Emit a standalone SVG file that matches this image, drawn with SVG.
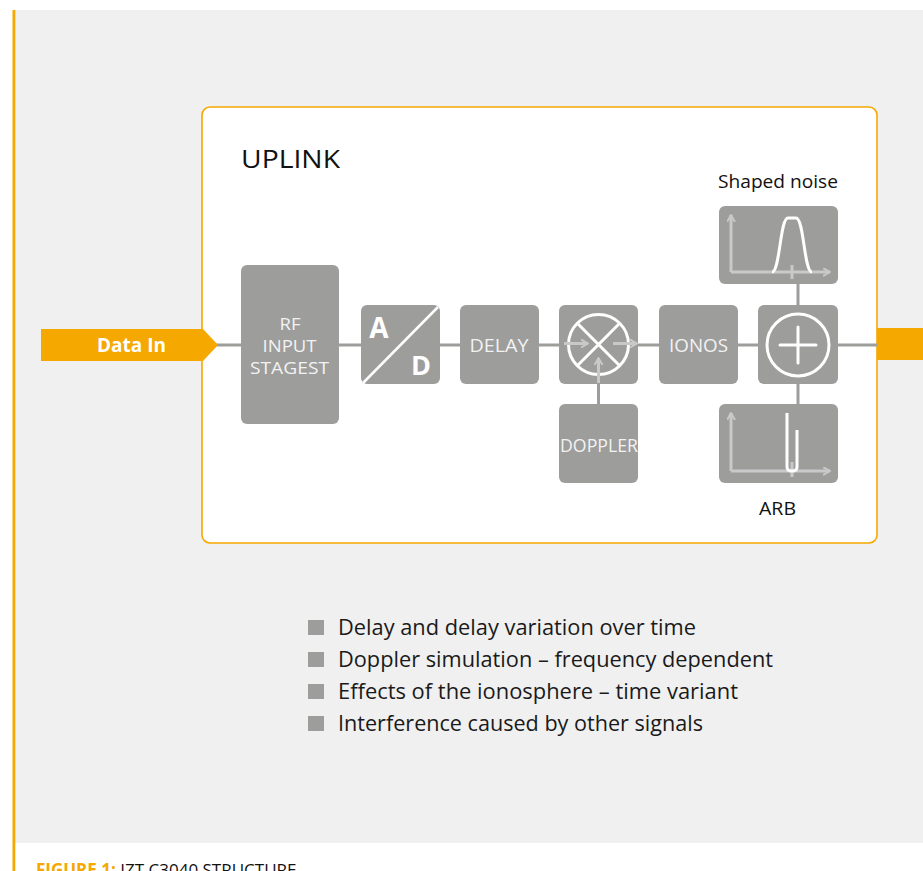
<svg xmlns="http://www.w3.org/2000/svg" width="923" height="871" viewBox="0 0 923 871">
<style>
.box{fill:#9d9d9c}
.lbl{font-family:"Open Sans","Liberation Sans",sans-serif;font-size:18.5px;fill:#f2f2f2;text-anchor:middle}
.lbs{font-size:16.5px}
.blk{font-family:"Open Sans","Liberation Sans",sans-serif;fill:#111;}
.conn{stroke:#9d9d9c;stroke-width:3;fill:none}
.ax{stroke:#c9c9c9;stroke-width:3;fill:none}
.wh{stroke:#fff;stroke-width:3;fill:none}
.bul{fill:#9d9d9c}
</style>
<defs>
<marker id="ah" viewBox="0 0 10 10" refX="8" refY="5" markerWidth="3" markerHeight="3" orient="auto" markerUnits="strokeWidth">
<path d="M1,1 L8,5 L1,9" fill="none" stroke="#c9c9c9" stroke-width="2.2" stroke-linecap="round" stroke-linejoin="round"/>
</marker>
</defs>
<rect x="0" y="0" width="923" height="871" fill="#fff"/>
<rect x="15" y="10" width="908" height="833" fill="#f0f0f0"/>
<rect x="12.5" y="10" width="2.8" height="861" fill="#f5a800"/>
<rect id="uplink" x="202" y="107" width="675" height="436" rx="8" fill="#fff" stroke="#f5a800" stroke-width="1.6"/>
<text class="blk" x="241" y="168" font-size="25" textLength="99" lengthAdjust="spacingAndGlyphs">UPLINK</text>
<g id="connectors">
<line class="conn" x1="216" y1="345" x2="877" y2="345"/>
<line class="conn" x1="798" y1="284" x2="798" y2="404"/>
<line class="conn" x1="598.5" y1="384" x2="598.5" y2="404"/>
</g>
<g id="data-in">
<polygon points="41,329 203,329 218,345 203,361 41,361" fill="#f5a800"/>
<text x="131.5" y="352" font-family="'Open Sans','Liberation Sans',sans-serif" font-size="19" font-weight="bold" fill="#fff" text-anchor="middle" textLength="69" lengthAdjust="spacingAndGlyphs">Data In</text>
</g>
<g id="output"><rect x="877" y="328" width="46" height="32" fill="#f5a800"/></g>
<g id="rf">
<rect class="box" x="241" y="265" width="98" height="159" rx="6"/>
<text class="lbl lbs" x="290" y="330" textLength="21" lengthAdjust="spacingAndGlyphs">RF</text>
<text class="lbl lbs" x="289.5" y="352" textLength="54" lengthAdjust="spacingAndGlyphs">INPUT</text>
<text class="lbl lbs" x="289.5" y="374" textLength="79" lengthAdjust="spacingAndGlyphs">STAGEST</text>
</g>
<g id="ad">
<rect class="box" x="361" y="305" width="79" height="79" rx="6"/>
<line x1="363" y1="383" x2="438" y2="307" stroke="#fff" stroke-width="2.5"/>
<text x="379" y="338" font-family="'Open Sans','Liberation Sans',sans-serif" font-size="28" font-weight="bold" fill="#fff" text-anchor="middle">A</text>
<text x="421" y="375" font-family="'Open Sans','Liberation Sans',sans-serif" font-size="27" font-weight="bold" fill="#fff" text-anchor="middle">D</text>
</g>
<g id="delay">
<rect class="box" x="460" y="305" width="79" height="79" rx="6"/>
<text class="lbl" x="499" y="351.5" textLength="59" lengthAdjust="spacingAndGlyphs">DELAY</text>
</g>
<g id="mixer">
<rect class="box" x="559" y="305" width="79" height="79" rx="6"/>
<circle class="wh" cx="598.5" cy="344.5" r="30"/>
<line class="wh" x1="577.3" y1="323.3" x2="619.7" y2="365.7"/>
<line class="wh" x1="619.7" y1="323.3" x2="577.3" y2="365.7"/>
<line class="ax" x1="564" y1="343.5" x2="588" y2="343.5" marker-end="url(#ah)"/>
<line class="ax" x1="613" y1="343.5" x2="637" y2="343.5" marker-end="url(#ah)"/>
<line class="ax" x1="598.5" y1="383" x2="598.5" y2="358" marker-end="url(#ah)"/>
</g>
<g id="doppler">
<rect class="box" x="559" y="404" width="79" height="79" rx="6"/>
<text class="lbl" x="599" y="452" textLength="78" lengthAdjust="spacingAndGlyphs">DOPPLER</text>
</g>
<g id="ionos">
<rect class="box" x="659" y="305" width="79" height="79" rx="6"/>
<text class="lbl" x="698.5" y="351.5" textLength="59" lengthAdjust="spacingAndGlyphs">IONOS</text>
</g>
<g id="adder">
<rect class="box" x="758" y="305" width="80" height="79" rx="6"/>
<circle class="wh" cx="798" cy="345" r="31"/>
<line class="wh" x1="780" y1="345" x2="816" y2="345" stroke-linecap="round"/>
<line class="wh" x1="798" y1="327" x2="798" y2="363" stroke-linecap="round"/>
</g>
<g id="shaped-noise">
<rect class="box" x="719" y="206" width="119" height="78" rx="6"/>
<line class="ax" x1="731" y1="272" x2="731" y2="215" marker-end="url(#ah)"/>
<line class="ax" x1="731" y1="272" x2="830" y2="272" marker-end="url(#ah)"/>
<line class="ax" x1="792" y1="265" x2="792" y2="279"/>
<path class="wh" d="M772,272 C780,272 780,218 788,218 L796,218 C804,218 804,272 812,272"/>
<text class="blk" x="778" y="188" font-size="18" text-anchor="middle" textLength="120" lengthAdjust="spacingAndGlyphs">Shaped noise</text>
</g>
<g id="arb">
<rect class="box" x="719" y="404" width="119" height="79" rx="6"/>
<line class="ax" x1="731" y1="471" x2="731" y2="413" marker-end="url(#ah)"/>
<line class="ax" x1="731" y1="471" x2="830" y2="471" marker-end="url(#ah)"/>
<line class="ax" x1="792" y1="462" x2="792" y2="477"/>
<path class="wh" d="M787,413 L787,467 Q787,471 792,471 Q797,471 797,467 L797,430"/>
<text class="blk" x="777.5" y="515" font-size="17.5" text-anchor="middle" textLength="37" lengthAdjust="spacingAndGlyphs">ARB</text>
</g>
<g id="bullets" font-family="'Open Sans','Liberation Sans',sans-serif" font-size="22" fill="#1a1a1a">
<rect class="bul" x="308" y="620" width="16" height="15"/>
<rect class="bul" x="308" y="652" width="16" height="15"/>
<rect class="bul" x="308" y="684" width="16" height="15"/>
<rect class="bul" x="308" y="716" width="16" height="15"/>
<text x="338" y="635" textLength="358" lengthAdjust="spacingAndGlyphs">Delay and delay variation over time</text>
<text x="338" y="667" textLength="435" lengthAdjust="spacingAndGlyphs">Doppler simulation – frequency dependent</text>
<text x="338" y="699" textLength="400" lengthAdjust="spacingAndGlyphs">Effects of the ionosphere – time variant</text>
<text x="338" y="731" textLength="365" lengthAdjust="spacingAndGlyphs">Interference caused by other signals</text>
</g>
<text x="36" y="876" font-family="'Open Sans','Liberation Sans',sans-serif" font-size="17"><tspan font-weight="bold" fill="#f5a800">FIGURE 1:</tspan><tspan fill="#111"> IZT C3040 STRUCTURE</tspan></text>
</svg>
